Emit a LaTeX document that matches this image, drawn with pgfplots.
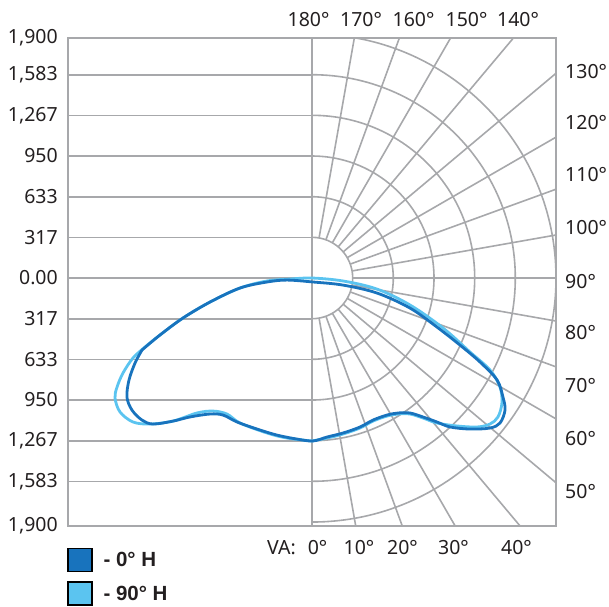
\documentclass[border=0pt]{standalone}
\usepackage{pgfplots}
\pgfplotsset{compat=1.18}
\usepackage{fontspec}
\setmainfont{Noto Sans}
\newfontfamily\legfont{Liberation Sans}

\definecolor{gridc}{HTML}{A7A8AB}
\definecolor{txt}{HTML}{231F20}
\definecolor{hzero}{HTML}{1873BD}
\definecolor{hninety}{HTML}{5BC4F0}
\newcommand\lab{\fontsize{19.5}{23}\selectfont}

\begin{document}
\begin{tikzpicture}[x=1pt,y=1pt]
\path[use as bounding box] (0,0) rectangle (609,606);
\begin{axis}[
  at={(68pt,80pt)}, anchor=south west,
  scale only axis, width=488pt, height=488pt,
  xmin=-1900, xmax=1900, ymin=-1931, ymax=1869,
  axis line style={draw=gridc, line width=2pt},
  xtick=\empty,
  ytick={-1931,-1583,-1267,-950,-633,-317,0,317,633,950,1267,1583,1869},
  yticklabels={{1,900},{1,583},{1,267},950,633,317,0.00,317,633,950,{1,267},{1,583},{1,900}},
  major tick length=0pt,
  yticklabel style={font=\lab, text=txt, inner sep=0pt, anchor=east, xshift=-10pt},
  clip=false,
  legend style={at={(-0.002,-0.044)}, anchor=north west, draw=none, fill=none,
    inner sep=0pt, row sep=9.5pt, column sep=9pt,
    font=\fontsize{20.5}{24}\selectfont\legfont\bfseries, text=txt, cells={anchor=west}},
  legend cell align=left,
]
% left half: horizontal grid
\pgfplotsinvokeforeach{-1583,-1267,-950,-633,-317,0,317,633,950,1267,1583}{
  \draw[gridc, line width=1.6pt] (axis cs:-1900,#1) -- (axis cs:0,#1);
}
\draw[gridc, line width=1.6pt] (axis cs:0,-1931) -- (axis cs:0,1869);
% right half: polar grid
\begin{scope}
\clip (axis cs:0,-1931) rectangle (axis cs:1900,1869);
\pgfplotsinvokeforeach{317,633,950,1267,1583,1900}{
  \draw[gridc, line width=1.6pt] (axis cs:0,0) circle[radius=#1];
}
\pgfplotsinvokeforeach{10,20,...,170}{
  \draw[gridc, line width=1.6pt] (axis cs:{317*sin(#1)},{-317*cos(#1)}) -- (axis cs:{3200*sin(#1)},{-3200*cos(#1)});
}
\end{scope}

\addlegendimage{legend image code/.code={\draw[fill=hzero, draw=black, line width=1.3pt] (0pt,-11.5pt) rectangle (24pt,11.5pt);}}
\addlegendentry{- 0° H}
\addlegendimage{legend image code/.code={\draw[fill=hninety, draw=black, line width=1.3pt] (0pt,-11.5pt) rectangle (24pt,11.5pt);}}
\addlegendentry{- 90° H}

% 90 deg H plane
\addplot[forget plot, hninety, line width=2.8pt, smooth, tension=0.55] coordinates {
(0,-1269) (117,-1246) (241,-1215) (374,-1168) (475,-1114) (584,-1075) (670,-1059)
(763,-1059) (864,-1090) (973,-1129) (1129,-1152) (1285,-1160) (1386,-1137)
(1448,-1082) (1479,-973) (1464,-849) (1386,-716) (1230,-576) (1020,-389)
(763,-210) (506,-86) (241,-23) (0,0) (-171,-8) (-350,-23) (-561,-78) (-794,-187)
(-1004,-311) (-1184,-444) (-1300,-537) (-1394,-623) (-1472,-740) (-1518,-849)
(-1534,-934) (-1495,-1043) (-1394,-1121) (-1261,-1137) (-1082,-1114) (-896,-1051)
(-771,-1036) (-662,-1059) (-561,-1129) (-350,-1207) (-195,-1246) (0,-1269)
};
% 0 deg H plane
\addplot[forget plot, hzero, line width=2.8pt, smooth, tension=0.55] coordinates {
(-1324,-561) (-1378,-662) (-1425,-794) (-1441,-927) (-1402,-1028) (-1324,-1106)
(-1238,-1137) (-1082,-1114) (-950,-1082) (-794,-1059) (-693,-1067) (-584,-1121)
(-428,-1176) (-273,-1223) (-117,-1254) (8,-1269) (117,-1238) (241,-1207)
(374,-1160) (475,-1106) (584,-1067) (670,-1051) (763,-1051) (864,-1082)
(973,-1121) (1075,-1160) (1230,-1176) (1386,-1168) (1464,-1129) (1503,-1028)
(1487,-927) (1441,-794) (1308,-654) (1152,-522) (973,-382) (763,-234)
(506,-117) (241,-55) (8,-31) (-195,-16) (-350,-31) (-561,-78) (-794,-187)
(-1004,-311) (-1184,-444) (-1324,-561)
};
\end{axis}

% angle labels
\begin{scope}[every node/.style={font=\lab, text=txt, inner sep=0pt}]
\node at (308.5,586) {180°};
\node at (361,586) {170°};
\node at (413.5,586) {160°};
\node at (466.5,586) {150°};
\node at (518,586) {140°};
\node[anchor=west] at (565,534) {130°};
\node[anchor=west] at (565,483) {120°};
\node[anchor=west] at (565,431) {110°};
\node[anchor=west] at (565,378) {100°};
\node[anchor=west] at (565,324) {90°};
\node[anchor=west] at (565,273) {80°};
\node[anchor=west] at (565,220) {70°};
\node[anchor=west] at (565,167) {60°};
\node[anchor=west] at (565,114) {50°};
\node[anchor=west] at (267,58) {VA:};
\node at (317.5,58) {0°};
\node at (359,58) {10°};
\node at (402.5,58) {20°};
\node at (453.5,58) {30°};
\node at (516.5,58) {40°};
\end{scope}
\end{tikzpicture}
\end{document}
